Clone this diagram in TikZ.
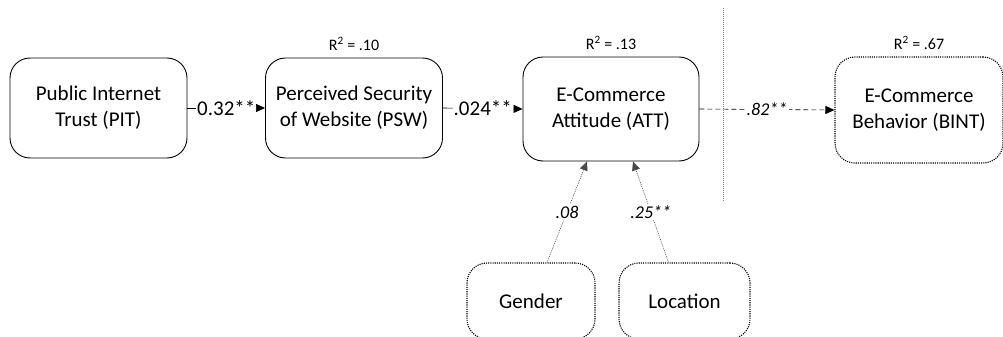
\documentclass[tikz,border=0pt]{standalone}
\usepackage{fontspec}
\setmainfont{Carlito}
\usetikzlibrary{arrows.meta,calc}
\begin{document}
\begin{tikzpicture}[x=1pt,y=-1pt,
  every node/.style={font=\fontsize{21}{26}\selectfont},
  box/.style={draw,line width=0.9pt,rounded corners=20pt,align=center,
    inner sep=0pt,minimum width=177pt,minimum height=100pt},
  dbox/.style={box,line width=1.1pt,dash pattern=on 1.1pt off 1.1pt},
  arr/.style={line width=0.6pt,-{Triangle[length=9pt,width=8pt]}},
  lab/.style={fill=white,inner sep=1pt,font=\fontsize{21}{24}\selectfont},
  ilab/.style={fill=white,inner sep=1.5pt,font=\fontsize{18}{20}\selectfont\itshape},
  rsq/.style={font=\fontsize{16}{18}\selectfont,inner sep=0pt}]
\useasboundingbox (0,0) rectangle (1003,337);

% constructs
\node[box] (pit) at (98.5,108) {Public Internet\\Trust (PIT)};
\node[box] (psw) at (354,108) {Perceived Security\\of Website (PSW)};
\node[box,minimum width=176pt,minimum height=104pt] (att) at (611,109) {E-Commerce\\Attitude (ATT)};
\node[dbox,minimum width=168pt,minimum height=106pt] (bint) at (919,110) {E-Commerce\\Behavior (BINT)};
\node[dbox,minimum width=128pt,minimum height=76pt] (gen) at (531,301) {Gender};
\node[dbox,minimum width=131pt,minimum height=76pt] (loc) at (684.5,301) {Location};

% explained variance
\node[rsq,anchor=base] (r1) at ([yshift=7pt]psw.north) {R\textsuperscript{2} = .10};
\node[rsq,anchor=base] (r2) at ([yshift=7pt]att.north) {R\textsuperscript{2} = .13};
\node[rsq,anchor=base] (r3) at ([yshift=7pt]bint.north) {R\textsuperscript{2} = .67};

% boundary line
\coordinate (vtop) at (723,8);
\coordinate (vbot) at (723,202);
\draw[line width=0.6pt,gray,dash pattern=on 1pt off 1pt] (vtop) -- (vbot);

% paths
\draw[arr] (pit.east) -- node[lab] {0.32**} (psw.west);
\draw[arr] (psw.east) -- node[lab] {.024**} (att.west);
\draw[arr,dash pattern=on 5pt off 3pt] (att.east) -- node[ilab] {.82**} (bint.west);
\draw[arr,gray!60!black,dash pattern=on 1pt off 1pt,line width=0.6pt] ([xshift=16pt]gen.north) -- node[ilab,text=black] {.08} ([xshift=-24pt]att.south);
\draw[arr,gray!60!black,dash pattern=on 1pt off 1pt,line width=0.6pt] ([xshift=-16pt]loc.north) -- node[ilab,text=black] {.25**} ([xshift=22pt]att.south);
\end{tikzpicture}
\end{document}
